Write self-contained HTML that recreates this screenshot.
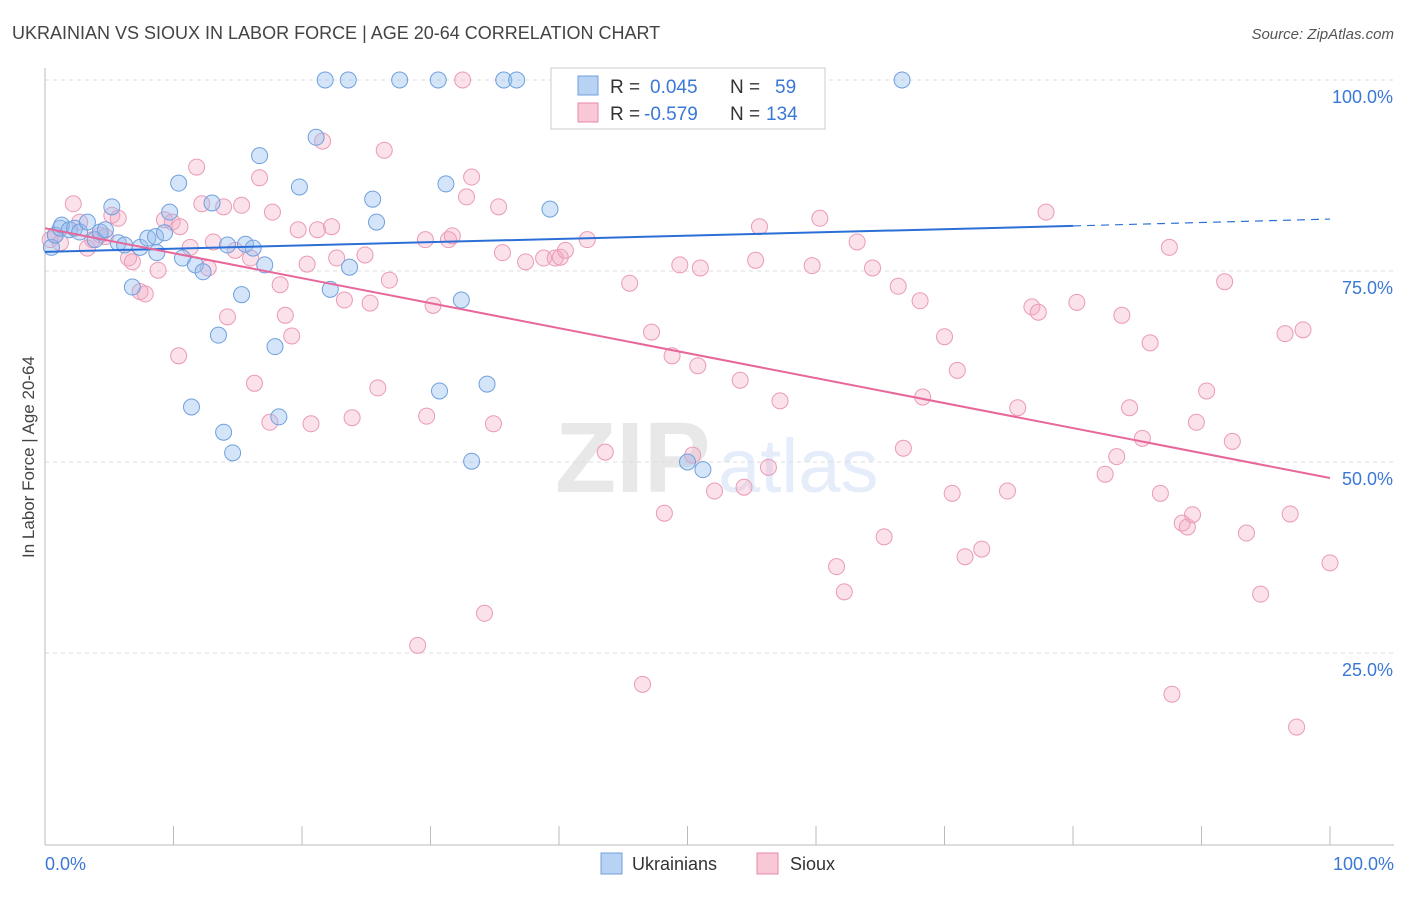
<!DOCTYPE html>
<html><head><meta charset="utf-8"><style>
body{margin:0;background:#fff;font-family:"Liberation Sans",sans-serif}
svg text{font-family:"Liberation Sans",sans-serif}
</style></head><body>
<svg id="chart" width="1406" height="892" xmlns="http://www.w3.org/2000/svg">
<text x="12" y="39" font-size="18" fill="#444">UKRAINIAN VS SIOUX IN LABOR FORCE | AGE 20-64 CORRELATION CHART</text>
<text x="1394" y="39" font-size="15" fill="#555" font-style="italic" text-anchor="end">Source: ZipAtlas.com</text>
<g opacity="0.13">
<text x="555" y="492" font-size="100" font-family="Liberation Serif" fill="#555" font-weight="bold">ZIP</text>
<text x="718" y="492" font-size="76" fill="#3a78d6">atlas</text>
</g>
<text transform="translate(34,457) rotate(-90)" font-size="17" fill="#444" text-anchor="middle">In Labor Force | Age 20-64</text>
<g id="grid"></g><g id="axes"></g><g id="pts"></g><g id="lines"></g>
<g>
<rect x="551" y="68" width="274" height="61" fill="#fff" stroke="#ccc"/>
<rect x="578" y="76" width="20" height="19" fill="#b8d2f3" stroke="#6fa0dd"/>
<rect x="578" y="103" width="20" height="19" fill="#f8c8d7" stroke="#e98aab"/>
<text x="610" y="93" font-size="19" fill="#333">R =</text><text x="650" y="93" font-size="19" fill="#3a78d6">0.045</text>
<text x="730" y="93" font-size="19" fill="#333">N =</text><text x="775" y="93" font-size="19" fill="#3a78d6">59</text>
<text x="610" y="120" font-size="19" fill="#333">R =</text><text x="644" y="120" font-size="19" fill="#3a78d6">-0.579</text>
<text x="730" y="120" font-size="19" fill="#333">N =</text><text x="766" y="120" font-size="19" fill="#3a78d6">134</text>
</g>
<g>
<rect x="601" y="853" width="21" height="21" fill="#b8d2f3" stroke="#6fa0dd"/>
<text x="632" y="870" font-size="18" fill="#333">Ukrainians</text>
<rect x="757" y="853" width="21" height="21" fill="#f8c8d7" stroke="#e98aab"/>
<text x="790" y="870" font-size="18" fill="#333">Sioux</text>
</g>
</svg>
<script>
const yTicks=[25,50,75,100];
const yTickLabels=["25.0%","50.0%","75.0%","100.0%"];
const xTicks=[0,10,20,30,40,50,60,70,80,90,100];
const blueX=[0.5,0.8,1.2,1.3,1.9,2.3,2.7,3.3,3.9,4.3,4.7,5.2,5.7,6.2,6.8,7.4,8.0,8.6,8.7,9.3,9.7,10.4,10.7,11.4,11.7,12.3,13.0,13.5,13.9,14.2,14.6,15.3,15.6,16.2,16.7,17.1,17.9,18.2,19.8,21.1,21.8,22.2,23.6,23.7,25.5,25.8,27.6,30.6,30.7,31.2,32.4,33.2,34.4,35.7,36.7,39.3,50.0,51.2,66.7];
const blueY=[78.1,79.7,80.6,81.0,80.4,80.6,80.1,81.4,79.1,80.1,80.4,83.4,78.7,78.4,72.9,78.1,79.3,79.5,77.4,80.0,82.7,86.5,76.7,57.2,75.8,74.9,83.9,66.6,53.9,78.4,51.2,71.9,78.5,78.0,90.1,75.8,65.1,55.9,86.0,92.5,100,72.6,100,75.5,84.4,81.4,100,100,59.3,86.4,71.2,50.1,60.2,100,100,83.1,50.0,49.0,100];
const pinkX=[0.4,0.8,1.2,2.2,2.7,3.3,3.7,4.3,4.7,5.2,5.7,6.5,6.8,7.4,7.8,8.8,9.3,9.9,10.4,10.5,11.3,11.8,12.2,12.7,13.1,13.9,14.2,14.8,15.3,16.0,16.3,16.7,17.7,17.5,18.3,18.7,19.2,19.7,20.4,20.7,21.2,21.6,22.3,22.7,23.3,23.9,24.9,25.3,25.9,26.4,26.8,29.6,29.7,30.2,29.0,31.4,31.7,32.5,32.8,33.2,34.2,34.9,35.3,35.6,37.4,38.8,39.7,40.1,40.5,42.2,43.6,45.5,46.5,47.2,48.2,48.8,50.4,50.8,49.4,51.0,52.1,54.1,54.4,55.6,55.3,56.3,57.2,59.7,60.3,61.6,62.2,63.2,64.4,65.3,66.4,66.8,68.1,68.3,70.0,70.6,71.0,71.6,72.9,74.9,75.7,76.8,77.3,77.9,80.3,82.5,83.4,83.8,84.4,85.4,86.0,86.8,87.5,87.7,88.5,88.9,89.3,89.6,90.4,91.8,92.4,93.5,94.6,96.5,96.9,97.4,97.9,100];
const pinkY=[79.1,79.7,78.7,83.8,81.4,78.0,79.1,79.7,79.5,82.3,81.9,76.7,76.2,72.3,72.0,75.1,81.7,81.4,63.9,80.8,78.1,88.6,83.8,75.4,78.8,83.4,69.0,77.7,83.6,76.7,60.3,87.2,82.7,55.2,73.2,69.2,66.5,80.4,75.9,55.0,80.4,92.0,80.8,76.7,71.2,55.8,77.1,70.8,59.7,90.8,73.8,79.1,56.0,70.5,26.0,79.1,79.6,100,84.7,87.3,30.2,55.0,83.4,77.4,76.2,76.7,76.7,76.8,77.7,79.1,51.3,73.4,20.9,67.0,43.3,63.9,50.9,62.6,75.8,75.4,46.2,60.7,46.7,80.8,76.4,49.3,58.0,75.7,81.9,36.3,33.0,78.8,75.4,40.2,73.0,51.8,71.1,58.5,66.4,45.9,62.0,37.6,38.6,46.2,57.1,70.3,69.6,82.7,70.9,48.4,50.7,69.2,57.1,53.1,65.6,45.9,78.1,19.6,42.0,41.5,43.1,55.2,59.3,73.6,52.7,40.7,32.7,66.8,43.2,15.3,67.3,36.8];
const blueTrend=[77.5,80.9,81.8]; // at x=0, 80, 100
const pinkTrend=[80.6,47.9]; // at x=0, 100
const NS="http://www.w3.org/2000/svg";
const X=v=>45+v*12.85, Y=v=>844-v*7.64;
function mk(t,a,p){const e=document.createElementNS(NS,t);for(const k in a)e.setAttribute(k,a[k]);p.appendChild(e);return e;}
const grid=document.getElementById('grid'),axes=document.getElementById('axes');
yTicks.forEach((t,i)=>{
 const l=mk('line',{x1:45,x2:1394,y1:Y(t),y2:Y(t),stroke:'#ddd','stroke-dasharray':'4,4'},grid);
 
 
 const tx=mk('text',{x:1393,y:Y(t)+23,'font-size':18,fill:'#3a78d6','text-anchor':'end'},axes);
 tx.textContent=yTickLabels[i];
 
 
});
const ax=mk('line',{x1:45,x2:1394,y1:845,y2:845,stroke:'#bbb'},axes);


const ay=mk('line',{x1:45,x2:45,y1:68,y2:845,stroke:'#bbb'},axes);


xTicks.forEach(t=>{const l=mk('line',{x1:X(t),x2:X(t),y1:826,y2:845,stroke:'#bbb'},axes);
 
 });
[[0,'0.0%','start',45],[100,'100.0%','end',1394]].forEach(d=>{const tx=mk('text',{x:d[3],y:870,'font-size':18,fill:'#3a78d6','text-anchor':d[2]},axes);tx.textContent=d[1];
 
 });
const pts=document.getElementById('pts');
pinkX.forEach((v,i)=>{const c=mk('circle',{cx:X(v),cy:Y(pinkY[i]),r:8,fill:'rgba(244,168,196,0.35)',stroke:'#eb9ab6','stroke-width':1},pts);
 
 });
blueX.forEach((v,i)=>{const c=mk('circle',{cx:X(v),cy:Y(blueY[i]),r:8,fill:'rgba(150,190,240,0.4)',stroke:'#6fa0dd','stroke-width':1},pts);
 
 });
const lines=document.getElementById('lines');
const b1=mk('line',{x1:X(0),y1:Y(blueTrend[0]),x2:X(80),y2:Y(blueTrend[1]),stroke:'#2b6fd6','stroke-width':2},lines);


const b2=mk('line',{x1:X(80),y1:Y(blueTrend[1]),x2:X(100),y2:Y(blueTrend[2]),stroke:'#2b6fd6','stroke-width':1.2,'stroke-dasharray':'8,6'},lines);


const p1=mk('line',{x1:X(0),y1:Y(pinkTrend[0]),x2:X(100),y2:Y(pinkTrend[1]),stroke:'#e8679a','stroke-width':2},lines);


</script>
</body></html>
